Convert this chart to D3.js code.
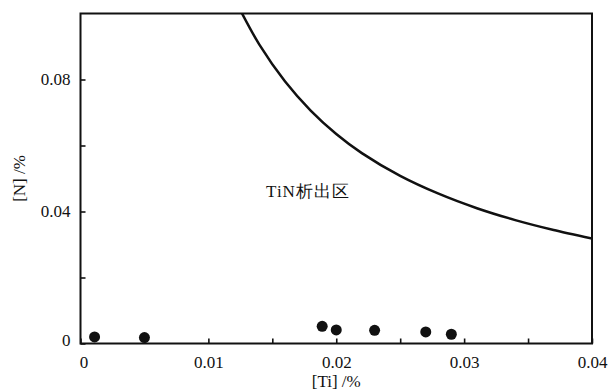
<!DOCTYPE html>
<html>
<head>
<meta charset="utf-8">
<script src="https://cdn.jsdelivr.net/npm/d3@7"></script>
<style>
  body { margin: 0; background: #fff; }
  svg text { font-family: "Liberation Serif", "DejaVu Serif", serif; fill: #111; }
</style>
</head>
<body>
<svg id="chart" width="614" height="392"></svg>
<script>
// curve (TiN precipitation boundary)
var curveTi = [0.0125, 0.014, 0.016, 0.018, 0.020, 0.022, 0.025, 0.028, 0.031, 0.034, 0.037, 0.040];
var curveN  = [0.101, 0.0905, 0.0794, 0.0706, 0.0635, 0.0577, 0.0508, 0.0454, 0.041, 0.0374, 0.0344, 0.0318];

// measured points
var pointTi = [0.0011, 0.0050, 0.0189, 0.0200, 0.0230, 0.0270, 0.0290];
var pointN  = [0.0020, 0.0018, 0.0052, 0.0041, 0.0040, 0.0035, 0.0028];

var xTicks = [0, 0.005, 0.01, 0.015, 0.02, 0.025, 0.03, 0.035, 0.04];
var xLabels = [0, 0.01, 0.02, 0.03, 0.04];
var yTicks = [0, 0.02, 0.04, 0.06, 0.08];
var yLabels = [0, 0.04, 0.08];

var svg = d3.select("#chart");
const margins = {top: 13.5, right: 22, bottom: 48.5, left: 80.5};
var width = 614, height = 392;

var x = d3.scaleLinear().domain([0, 0.04]).range([margins.left, width - margins.right]);
var y = d3.scaleLinear().domain([0, 0.1]).range([height - margins.bottom, margins.top]);

function fmt(v) { return v == 0 ? "0" : d3.format(".2f")(v); }

var xAxis = d3.axisBottom(x).tickValues(xTicks).tickSizeInner(-5).tickSizeOuter(0).tickPadding(12)
    .tickFormat(d => xLabels.some(l => Math.abs(l - d) < 1e-9) ? fmt(d) : "");
var gx = svg.append("g").attr("transform", "translate(0," + y(0) + ")").call(xAxis);
gx.select(".domain").remove();
gx.selectAll("line").attr("stroke", "#111").attr("stroke-width", 1.6);
gx.selectAll("text").attr("font-size", 17).attr("fill", "#111");
gx.selectAll(".tick text").filter(d => d == 0).attr("dx", 3);

var yAxis = d3.axisLeft(y).tickValues(yTicks).tickSizeInner(-5).tickSizeOuter(0).tickPadding(10)
    .tickFormat(d => yLabels.some(l => Math.abs(l - d) < 1e-9) ? fmt(d) : "");
var gy = svg.append("g").attr("transform", "translate(" + x(0) + ",0)").call(yAxis);
gy.select(".domain").remove();
gy.selectAll("line").attr("stroke", "#111").attr("stroke-width", 1.6);
gy.selectAll("text").attr("font-size", 17).attr("fill", "#111");
gy.selectAll(".tick text").filter(d => d == 0).attr("dy", "0.1em");

// frame
svg.append("rect")
    .attr("x", x(0)).attr("y", y(0.1))
    .attr("width", x(0.04) - x(0)).attr("height", y(0) - y(0.1))
    .attr("fill", "none").attr("stroke", "#111").attr("stroke-width", 2);

svg.append("clipPath").attr("id", "plotclip").append("rect")
    .attr("x", x(0)).attr("y", y(0.1))
    .attr("width", x(0.04) - x(0)).attr("height", y(0) - y(0.1));

var line = d3.line().x(d => x(d[0])).y(d => y(d[1])).curve(d3.curveCatmullRom);
svg.append("path")
    .datum(curveTi.map((t, i) => [t, curveN[i]]))
    .attr("clip-path", "url(#plotclip)")
    .attr("fill", "none").attr("stroke", "#111").attr("stroke-width", 2.5)
    .attr("d", line);

svg.append("g").selectAll("circle")
    .data(pointTi.map((t, i) => [t, pointN[i]])).enter()
    .append("circle")
    .attr("cx", d => x(d[0])).attr("cy", d => y(d[1]))
    .attr("r", 5.5).attr("fill", "#111");

svg.append("text")
    .attr("x", 308).attr("y", 197)
    .attr("text-anchor", "middle").attr("font-size", 17)
    .attr("letter-spacing", 1)
    .text("TiN析出区");

svg.append("text")
    .attr("x", (x(0) + x(0.04)) / 2).attr("y", 387)
    .attr("text-anchor", "middle").attr("font-size", 17)
    .text("[Ti] /%");

svg.append("text")
    .attr("transform", "translate(25," + ((y(0) + y(0.1)) / 2) + ") rotate(-90)")
    .attr("text-anchor", "middle").attr("font-size", 17)
    .text("[N] /%");
</script>
</body>
</html>
